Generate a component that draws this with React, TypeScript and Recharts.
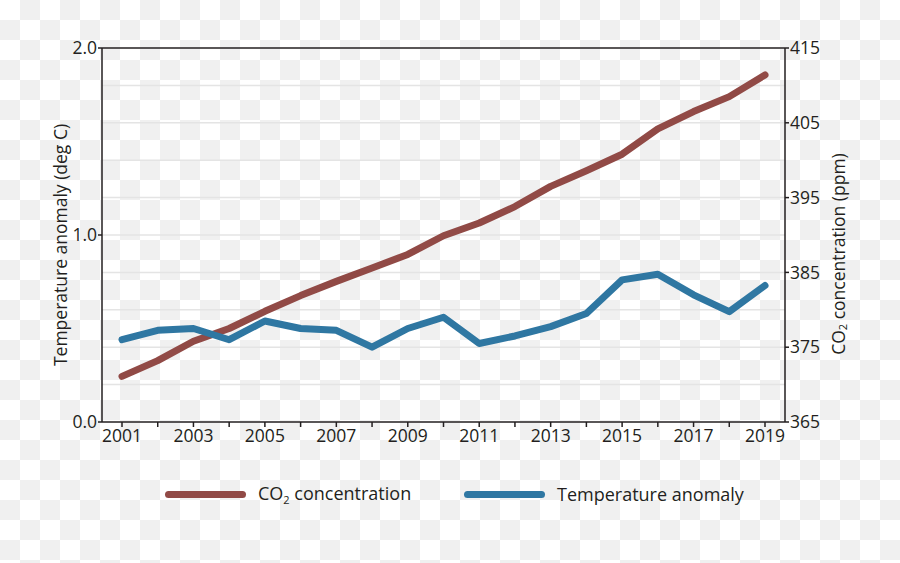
import {
  LineChart,
  Line,
  XAxis,
  YAxis,
  ReferenceLine,
} from 'recharts';

const years = [
  2001, 2002, 2003, 2004, 2005, 2006, 2007, 2008, 2009, 2010, 2011, 2012,
  2013, 2014, 2015, 2016, 2017, 2018, 2019,
];
const co2Ppm = [
  371.1, 373.2, 375.8, 377.5, 379.8, 381.9, 383.8, 385.6, 387.4, 389.9, 391.6,
  393.8, 396.5, 398.6, 400.8, 404.2, 406.5, 408.5, 411.4,
];
const tempAnomaly = [
  0.44, 0.49, 0.5, 0.44, 0.54, 0.5, 0.49, 0.4, 0.5, 0.56, 0.42, 0.46, 0.51,
  0.58, 0.76, 0.79, 0.68, 0.59, 0.73,
];
const tempTicks = [0, 1, 2];
const co2Ticks = [365, 375, 385, 395, 405, 415];
const gridLevels = [0.2, 0.4, 0.6, 0.8, 1.0, 1.2, 1.4, 1.6, 1.8];

const CO2_COLOR = '#914a46';
const TEMP_COLOR = '#2f77a2';
const AXIS_COLOR = '#231f20';
const FONT = '"Open Sans", sans-serif';

const data = years.map((year, i) => ({
  year,
  co2: co2Ppm[i],
  temp: tempAnomaly[i],
}));

function TempLabel(props: any) {
  const { viewBox } = props;
  const x = viewBox.x + 18;
  const y = viewBox.y + viewBox.height / 2 + 10;
  return (
    <text
      x={x}
      y={y}
      transform={`rotate(-90, ${x}, ${y})`}
      textAnchor='middle'
      dominantBaseline='central'
      fontSize={17.5}
      fill={AXIS_COLOR}
      fontFamily={FONT}
    >
      Temperature anomaly (deg C)
    </text>
  );
}

function Co2Label(props: any) {
  const { viewBox } = props;
  const x = viewBox.x + 53;
  const y = viewBox.y + viewBox.height / 2 + 19;
  return (
    <text
      x={x}
      y={y}
      transform={`rotate(-90, ${x}, ${y})`}
      textAnchor='middle'
      dominantBaseline='central'
      fontSize={17.5}
      fill={AXIS_COLOR}
      fontFamily={FONT}
    >
      CO
      <tspan fontSize={11} dy={4}>
        2
      </tspan>
      <tspan dy={-4}> concentration (ppm)</tspan>
    </text>
  );
}

function LegendItem({ color, children }: { color: string; children: any }) {
  return (
    <div style={{ display: 'flex', alignItems: 'center', height: 26 }}>
      <div
        style={{
          width: 81,
          height: 7,
          borderRadius: 4,
          background: color,
          marginRight: 12,
        }}
      />
      <span style={{ lineHeight: '26px' }}>{children}</span>
    </div>
  );
}

export default function App() {
  return (
    <div
      style={{
        position: 'absolute',
        left: 0,
        top: 0,
        width: 900,
        height: 563,
        background:
          'repeating-conic-gradient(#f0f0f0 0 25%, #ffffff 0 50%) 0 0 / 40px 40px',
        fontFamily: FONT,
        color: AXIS_COLOR,
      }}
    >
      <LineChart
        width={900}
        height={563}
        data={data}
        margin={{ top: 48, right: 45, bottom: 111, left: 42 }}
      >
        {gridLevels.map((v) => (
          <ReferenceLine
            key={v}
            yAxisId='temp'
            y={v}
            stroke='#e4e4e4'
            strokeWidth={1.5}
          />
        ))}
        <ReferenceLine
          yAxisId='temp'
          y={2}
          stroke={AXIS_COLOR}
          strokeWidth={1.5}
        />
        <XAxis
          dataKey='year'
          type='number'
          domain={[2001, 2019]}
          ticks={years}
          interval={0}
          padding={{ left: 20, right: 20 }}
          height={30}
          tickSize={5}
          tickMargin={3}
          tickFormatter={(v: number) => (v % 2 === 1 ? String(v) : '')}
          stroke={AXIS_COLOR}
          strokeWidth={1.5}
          tick={{ fill: AXIS_COLOR, fontSize: 17.5, fontFamily: FONT }}
        />
        <YAxis
          yAxisId='temp'
          orientation='left'
          domain={[0, 2]}
          ticks={tempTicks}
          width={60}
          tickSize={4}
          tickMargin={1}
          tickFormatter={(v: number) => v.toFixed(1)}
          stroke={AXIS_COLOR}
          strokeWidth={1.5}
          tick={{ fill: AXIS_COLOR, fontSize: 17.5, fontFamily: FONT }}
          label={{ content: TempLabel }}
        />
        <YAxis
          yAxisId='co2'
          orientation='right'
          domain={[365, 415]}
          ticks={co2Ticks}
          width={70}
          tickSize={4}
          tickMargin={1}
          stroke={AXIS_COLOR}
          strokeWidth={1.5}
          tick={{ fill: AXIS_COLOR, fontSize: 17.5, fontFamily: FONT }}
          label={{ content: Co2Label }}
        />
        <Line
          yAxisId='co2'
          dataKey='co2'
          type='linear'
          stroke={CO2_COLOR}
          strokeWidth={7}
          strokeLinecap='round'
          strokeLinejoin='round'
          dot={false}
          isAnimationActive={false}
        />
        <Line
          yAxisId='temp'
          dataKey='temp'
          type='linear'
          stroke={TEMP_COLOR}
          strokeWidth={7}
          strokeLinecap='round'
          strokeLinejoin='round'
          dot={false}
          isAnimationActive={false}
        />
      </LineChart>
      <div
        style={{
          position: 'absolute',
          top: 481,
          left: 165,
          display: 'flex',
          fontSize: 18,
        }}
      >
        <div style={{ width: 299 }}>
          <LegendItem color={CO2_COLOR}>
            CO
            <span
              style={{
                fontSize: 11,
                position: 'relative',
                top: 4,
              }}
            >
              2
            </span>{' '}
            concentration
          </LegendItem>
        </div>
        <LegendItem color={TEMP_COLOR}>Temperature anomaly</LegendItem>
      </div>
    </div>
  );
}
